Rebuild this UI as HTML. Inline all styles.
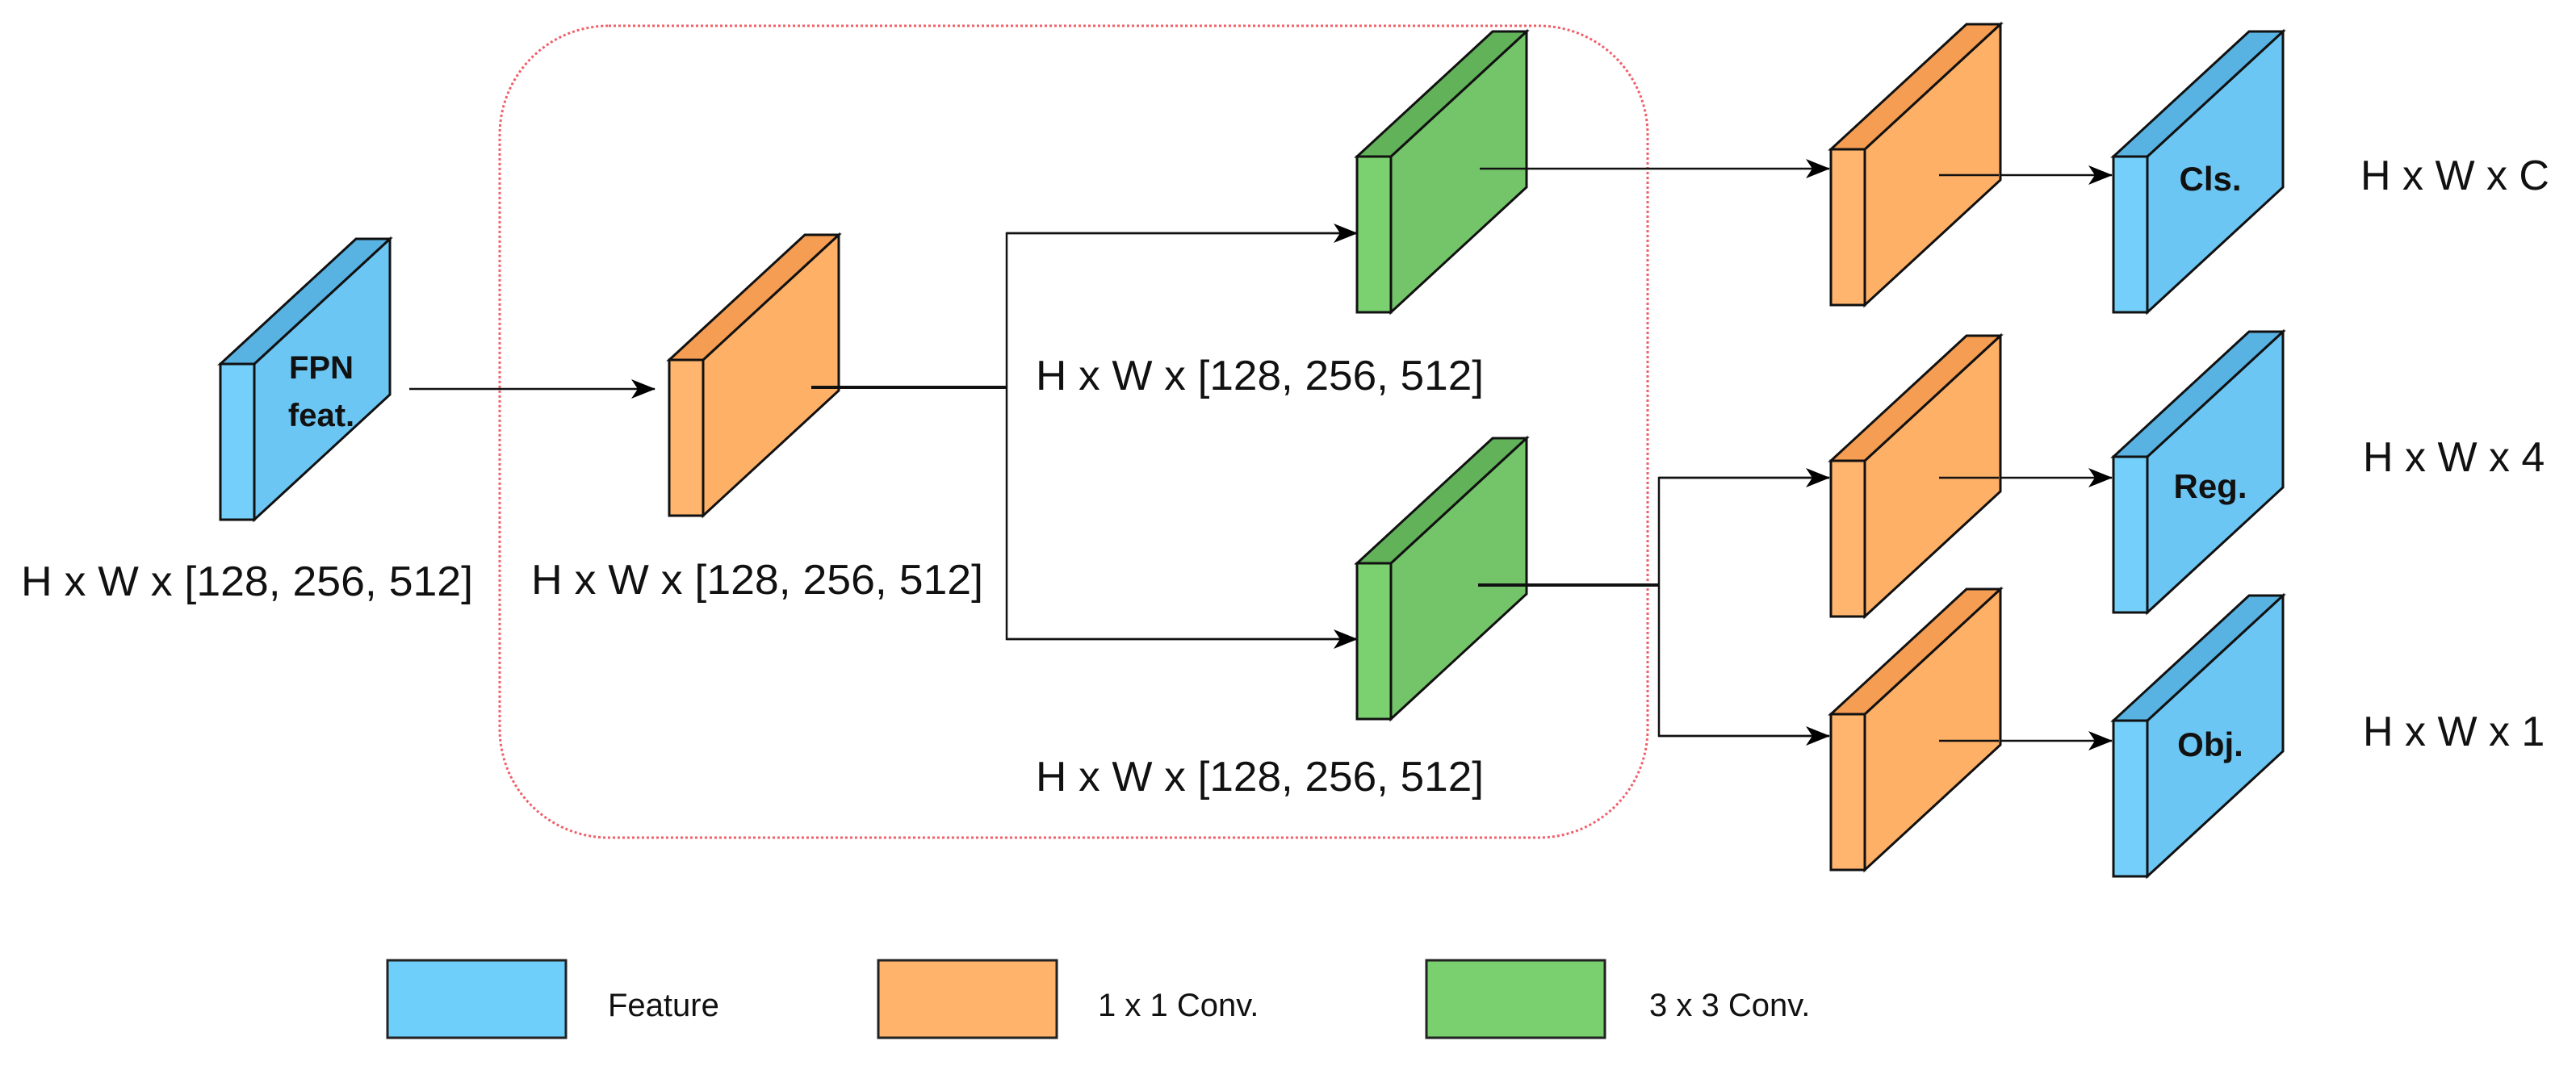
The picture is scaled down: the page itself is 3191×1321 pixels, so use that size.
<!DOCTYPE html>
<html><head><meta charset="utf-8"><style>
html,body{margin:0;padding:0;background:#fff;}
svg{display:block;}
text{font-family:"Liberation Sans",Arial,sans-serif;fill:#111;}
</style></head><body>
<svg width="3191" height="1321" viewBox="0 0 3191 1321" xmlns="http://www.w3.org/2000/svg">
<defs>
<marker id="ah" markerWidth="12" markerHeight="10" refX="11" refY="5" orient="auto" markerUnits="userSpaceOnUse" viewBox="0 0 12 10">
</marker>
<marker id="a" viewBox="0 0 30 24" refX="29" refY="12" markerWidth="30" markerHeight="24" orient="auto" markerUnits="userSpaceOnUse">
<path d="M0,0 L30,12 L0,24 L8,12 Z" fill="#000"/>
</marker>
<g id="blue">
<polygon points="42,0 210,-155 210,38 42,193" fill="#6CC6F3" stroke="#111" stroke-width="3"/>
<polygon points="0,0 42,0 210,-155 168,-155" fill="#58B3E2" stroke="#111" stroke-width="3"/>
<rect x="0" y="0" width="42" height="193" fill="#74D0FA" stroke="#111" stroke-width="3"/>
</g>
<g id="orange">
<polygon points="42,0 210,-155 210,38 42,193" fill="#FFB067" stroke="#111" stroke-width="3"/>
<polygon points="0,0 42,0 210,-155 168,-155" fill="#F59D52" stroke="#111" stroke-width="3"/>
<rect x="0" y="0" width="42" height="193" fill="#FFB56E" stroke="#111" stroke-width="3"/>
</g>
<g id="green">
<polygon points="42,0 210,-155 210,38 42,193" fill="#74C56A" stroke="#111" stroke-width="3"/>
<polygon points="0,0 42,0 210,-155 168,-155" fill="#62B25A" stroke="#111" stroke-width="3"/>
<rect x="0" y="0" width="42" height="193" fill="#7BD170" stroke="#111" stroke-width="3"/>
</g>
</defs>

<!-- dotted red region -->
<rect x="619" y="32" width="1422" height="1006" rx="135" ry="135" fill="none" stroke="#F0606A" stroke-width="3" stroke-dasharray="3,3"/>

<!-- connectors -->
<g stroke="#111" fill="none">
<line x1="507" y1="482" x2="811" y2="482" stroke-width="2.5" marker-end="url(#a)"/>
<line x1="1005" y1="480" x2="1247" y2="480" stroke-width="4"/>
<polyline points="1681,289 1247,289 1247,792 1681,792" stroke-width="2.5"/>
<line x1="1247" y1="289" x2="1681" y2="289" stroke-width="2.5" marker-end="url(#a)"/>
<line x1="1247" y1="792" x2="1681" y2="792" stroke-width="2.5" marker-end="url(#a)"/>
<line x1="1833" y1="209" x2="2266" y2="209" stroke-width="2.5" marker-end="url(#a)"/>
<line x1="2402" y1="217" x2="2616" y2="217" stroke-width="2.5" marker-end="url(#a)"/>
<line x1="1831" y1="725" x2="2055" y2="725" stroke-width="4"/>
<polyline points="2266,592 2055,592 2055,912 2266,912" stroke-width="2.5"/>
<line x1="2055" y1="592" x2="2266" y2="592" stroke-width="2.5" marker-end="url(#a)"/>
<line x1="2055" y1="912" x2="2266" y2="912" stroke-width="2.5" marker-end="url(#a)"/>
<line x1="2402" y1="592" x2="2616" y2="592" stroke-width="2.5" marker-end="url(#a)"/>
<line x1="2402" y1="918" x2="2616" y2="918" stroke-width="2.5" marker-end="url(#a)"/>
</g>

<!-- boxes -->
<use href="#blue" transform="translate(273,451)"/>
<use href="#orange" transform="translate(829,446)"/>
<use href="#green" transform="translate(1681,194)"/>
<use href="#green" transform="translate(1681,698)"/>
<use href="#orange" transform="translate(2268,185)"/>
<use href="#blue" transform="translate(2618,194)"/>
<use href="#orange" transform="translate(2268,571)"/>
<use href="#blue" transform="translate(2618,566)"/>
<use href="#orange" transform="translate(2268,885)"/>
<use href="#blue" transform="translate(2618,893)"/>

<!-- re-draw connector ends over boxes -->
<g stroke="#111">
<line x1="1005" y1="480" x2="1040" y2="480" stroke-width="4"/>
<line x1="1833" y1="209" x2="1890" y2="209" stroke-width="2.5"/>
<line x1="1831" y1="725" x2="1890" y2="725" stroke-width="4"/>
<line x1="2402" y1="217" x2="2476" y2="217" stroke-width="2.5"/>
<line x1="2402" y1="592" x2="2476" y2="592" stroke-width="2.5"/>
<line x1="2402" y1="918" x2="2476" y2="918" stroke-width="2.5"/>
</g>

<!-- box labels -->
<g font-weight="bold" font-size="40" text-anchor="middle">
<text x="398" y="469">FPN</text>
<text x="398" y="528">feat.</text>
<text x="2738" y="236" font-size="42">Cls.</text>
<text x="2738" y="617" font-size="42">Reg.</text>
<text x="2738" y="937" font-size="42">Obj.</text>
</g>

<!-- dimension labels -->
<g font-size="52">
<text x="26" y="738" textLength="560" lengthAdjust="spacingAndGlyphs">H x W x [128, 256, 512]</text>
<text x="658" y="736" textLength="560" lengthAdjust="spacingAndGlyphs">H x W x [128, 256, 512]</text>
<text x="1283" y="483" textLength="555" lengthAdjust="spacingAndGlyphs">H x W x  [128, 256, 512]</text>
<text x="1283" y="980" textLength="555" lengthAdjust="spacingAndGlyphs">H x W x  [128, 256, 512]</text>
<text x="2924" y="235">H x W x C</text>
<text x="2927" y="584">H x W x 4</text>
<text x="2927" y="924">H x W x 1</text>
</g>

<!-- legend -->
<rect x="480" y="1190" width="221" height="96" fill="#6FCFFB" stroke="#222" stroke-width="3"/>
<rect x="1088" y="1190" width="221" height="96" fill="#FFB36B" stroke="#222" stroke-width="3"/>
<rect x="1767" y="1190" width="221" height="96" fill="#7AD06E" stroke="#222" stroke-width="3"/>
<g font-size="40">
<text x="753" y="1259">Feature</text>
<text x="1360" y="1259">1 x 1 Conv.</text>
<text x="2043" y="1259">3 x 3 Conv.</text>
</g>
</svg>
</body></html>
